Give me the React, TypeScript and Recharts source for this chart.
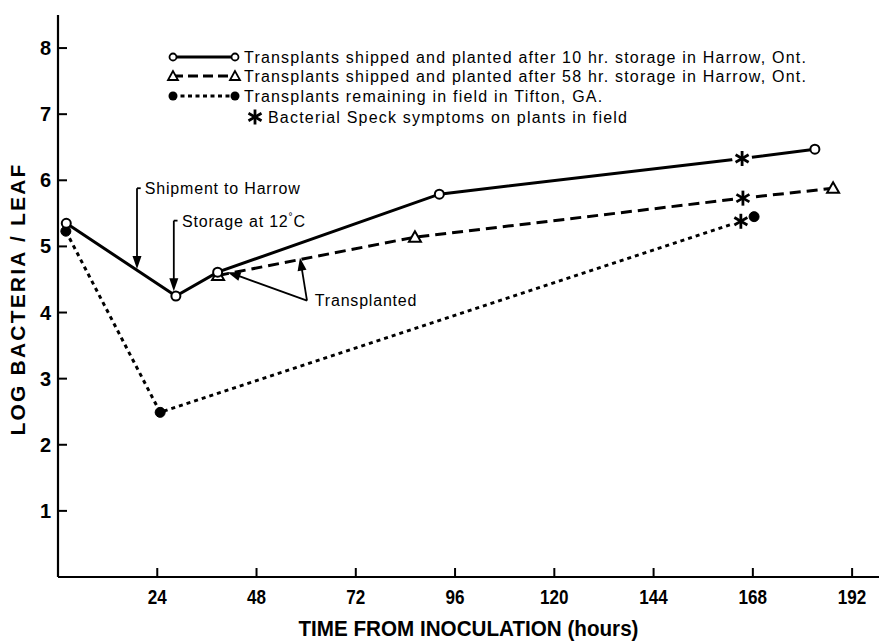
import React from "react";
import {
  LineChart,
  Line,
  XAxis,
  YAxis,
  ReferenceLine,
  ReferenceDot,
} from "recharts";

// ---- Data (hours from inoculation, log bacteria / leaf) ----
const solidHours = [2, 28.5, 38.6, 92.2, 165.4, 183.0];
const solidLog = [5.35, 4.25, 4.61, 5.79, 6.33, 6.47];
const solidStar = [false, false, false, false, true, false];

const dashedHours = [38.7, 86.3, 165.6, 187.4];
const dashedLog = [4.56, 5.14, 5.73, 5.88];
const dashedStar = [false, false, true, false];

const dottedHours = [1.9, 24.7, 165.1, 168.3];
const dottedLog = [5.23, 2.49, 5.38, 5.45];
const dottedStar = [false, false, true, false];

const xTicks = [24, 48, 72, 96, 120, 144, 168, 192];
const yTicks = [1, 2, 3, 4, 5, 6, 7, 8];

const legendLabels = [
  "Transplants shipped and planted after 10 hr. storage in Harrow, Ont.",
  "Transplants shipped and planted after 58 hr. storage in Harrow, Ont.",
  "Transplants remaining in field in Tifton, GA.",
  "Bacterial Speck symptoms on plants in field",
];

const build = (h: number[], v: number[], s: boolean[]) =>
  h.map((x, i) => ({ x, y: v[i], star: s[i] }));

const solidData = build(solidHours, solidLog, solidStar);
const dashedData = build(dashedHours, dashedLog, dashedStar);
const dottedData = build(dottedHours, dottedLog, dottedStar);

const BOLD = "'Liberation Sans', Arial, sans-serif";
const TEXT = "'Liberation Sans', Arial, sans-serif";

const Star = ({ cx, cy }: { cx: number; cy: number }) => {
  const L = 7.5;
  const arms = [90, 30, 150].map((a) => {
    const r = (a * Math.PI) / 180;
    return { dx: Math.cos(r) * L, dy: Math.sin(r) * L };
  });
  return (
    <g>
      <circle cx={cx} cy={cy} r={10} fill="#fff" />
      {arms.map((d, i) => (
        <line
          key={i}
          x1={cx - d.dx}
          y1={cy - d.dy}
          x2={cx + d.dx}
          y2={cy + d.dy}
          stroke="#000"
          strokeWidth={2.8}
        />
      ))}
    </g>
  );
};

const makeDot = (kind: "open" | "tri" | "fill") => (props: any) => {
  const { cx, cy, payload, index } = props;
  if (cx == null || cy == null) return <g key={index} />;
  if (payload && payload.star) return <Star key={index} cx={cx} cy={cy} />;
  if (kind === "open")
    return <circle key={index} cx={cx} cy={cy} r={4.5} fill="#fff" stroke="#000" strokeWidth={2} />;
  if (kind === "fill")
    return <circle key={index} cx={cx} cy={cy} r={5} fill="#000" stroke="#000" strokeWidth={1} />;
  return (
    <polygon
      key={index}
      points={`${cx},${cy - 6} ${cx - 6},${cy + 4.5} ${cx + 6},${cy + 4.5}`}
      fill="#fff"
      stroke="#000"
      strokeWidth={2}
    />
  );
};

const XTick = (props: any) => {
  const { x, y, payload } = props;
  return (
    <g>
      <line x1={x} x2={x} y1={y} y2={y - 9} stroke="#000" strokeWidth={2} />
      <text
        x={x}
        y={y + 27}
        textAnchor="middle"
        fontFamily={BOLD}
        fontWeight="bold"
        fontSize={20}
        textLength={String(payload.value).length * 9.5}
        lengthAdjust="spacingAndGlyphs"
        fill="#000"
      >
        {payload.value}
      </text>
    </g>
  );
};

const TopTick = (props: any) => {
  const { x, y } = props;
  return <line x1={x} x2={x} y1={y} y2={y + 9} stroke="#000" strokeWidth={2} />;
};

const YTick = (props: any) => {
  const { x, y, payload } = props;
  return (
    <g>
      <line x1={x} x2={x + 9} y1={y} y2={y} stroke="#000" strokeWidth={2} />
      <text
        x={x - 7}
        y={y + 7}
        textAnchor="end"
        fontFamily={BOLD}
        fontWeight="bold"
        fontSize={20}
        fill="#000"
      >
        {payload.value}
      </text>
    </g>
  );
};

const RightTick = (props: any) => {
  const { x, y } = props;
  return <line x1={x - 4} x2={x} y1={y} y2={y} stroke="#000" strokeWidth={2} />;
};

const Arrow = (angle: number) => (props: any) => {
  const { cx, cy } = props;
  return (
    <polygon
      points="0,0 -13,-4.5 -13,4.5"
      transform={`translate(${cx},${cy}) rotate(${angle})`}
      fill="#000"
    />
  );
};

const Note = (text: React.ReactNode) => (props: any) => {
  const { cx, cy } = props;
  return (
    <text
      x={cx}
      y={cy}
      dominantBaseline="middle"
      fontFamily={TEXT}
      fontSize={16}
      letterSpacing={0.8}
      fill="#000"
    >
      {text}
    </text>
  );
};

const annLine = { stroke: "#000", strokeWidth: 1.8, ifOverflow: "visible" as const };

const Legend = () => {
  const rows = [57, 76, 96, 117];
  const x0 = 173;
  const x1 = 235;
  const tx = 244;
  return (
    <svg
      width={879}
      height={641}
      style={{ position: "absolute", left: 0, top: 0, pointerEvents: "none" }}
    >
      <line x1={x0} x2={x1} y1={rows[0]} y2={rows[0]} stroke="#000" strokeWidth={3} />
      <circle cx={x0} cy={rows[0]} r={3.5} fill="#fff" stroke="#000" strokeWidth={1.8} />
      <circle cx={x1} cy={rows[0]} r={3.5} fill="#fff" stroke="#000" strokeWidth={1.8} />

      <line x1={x0} x2={x1} y1={rows[1]} y2={rows[1]} stroke="#000" strokeWidth={3} strokeDasharray="10 5" />
      <polygon points={`${x0},${rows[1] - 5} ${x0 - 5},${rows[1] + 4} ${x0 + 5},${rows[1] + 4}`} fill="#fff" stroke="#000" strokeWidth={1.8} />
      <polygon points={`${x1},${rows[1] - 5} ${x1 - 5},${rows[1] + 4} ${x1 + 5},${rows[1] + 4}`} fill="#fff" stroke="#000" strokeWidth={1.8} />

      <line x1={x0} x2={x1} y1={rows[2]} y2={rows[2]} stroke="#000" strokeWidth={3} strokeDasharray="4 3.5" />
      <circle cx={x0} cy={rows[2]} r={4.5} fill="#000" />
      <circle cx={x1} cy={rows[2]} r={4.5} fill="#000" />

      <Star cx={255} cy={rows[3]} />

      {legendLabels.map((t, i) => (
        <text
          key={i}
          x={i === 3 ? 268 : tx}
          y={rows[i] + 1.5}
          dominantBaseline="middle"
          fontFamily={TEXT}
          fontSize={16}
          letterSpacing={1.2}
          fill="#000"
        >
          {t}
        </text>
      ))}
    </svg>
  );
};

export default function App() {
  return (
    <div style={{ position: "absolute", left: 0, top: 0, width: 879, height: 641, background: "#fff" }}>
      <LineChart
        width={879}
        height={641}
        margin={{ top: 15, right: 0, bottom: 0, left: 0 }}
        style={{ background: "#fff" }}
      >
        <XAxis
          dataKey="x"
          type="number"
          domain={[0, 198.5]}
          ticks={xTicks}
          allowDataOverflow
          height={64}
          tickSize={0}
          tickMargin={0}
          tickLine={false}
          axisLine={{ stroke: "#000", strokeWidth: 2.2 }}
          tick={<XTick />}
          interval={0}
          label={(p: any) => {
            const vb = p.viewBox || {};
            return (
              <text
                x={vb.x + vb.width / 2}
                y={vb.y + 59}
                textAnchor="middle"
                fontFamily={BOLD}
                fontWeight="bold"
                fontSize={22}
                textLength={340}
                lengthAdjust="spacingAndGlyphs"
                fill="#000"
              >
                TIME FROM INOCULATION (hours)
              </text>
            );
          }}
        />
        <XAxis
          xAxisId="top"
          orientation="top"
          dataKey="x"
          type="number"
          domain={[0, 198.5]}
          ticks={xTicks}
          allowDataOverflow
          height={0}
          tickSize={0}
          tickMargin={0}
          tickLine={false}
          axisLine={{ stroke: "#000", strokeWidth: 2.2 }}
          tick={<TopTick />}
          interval={0}
        />
        <YAxis
          type="number"
          domain={[0, 8.5]}
          ticks={yTicks}
          allowDataOverflow
          width={58}
          tickSize={0}
          tickMargin={0}
          tickLine={false}
          axisLine={{ stroke: "#000", strokeWidth: 2.2 }}
          tick={<YTick />}
          interval={0}
          label={(p: any) => {
            const vb = p.viewBox || {};
            const cx = 19;
            const cy = vb.y + vb.height / 2 + 3;
            return (
              <text
                x={cx}
                y={cy}
                transform={`rotate(-90 ${cx} ${cy})`}
                textAnchor="middle"
                dominantBaseline="middle"
                fontFamily={BOLD}
                fontWeight="bold"
                fontSize={21}
                letterSpacing={2.2}
                fill="#000"
              >
                LOG BACTERIA / LEAF
              </text>
            );
          }}
        />
        <YAxis
          yAxisId="right"
          orientation="right"
          type="number"
          domain={[0, 8.5]}
          ticks={yTicks}
          allowDataOverflow
          width={0}
          tickSize={0}
          tickMargin={0}
          tickLine={false}
          axisLine={false}
          tick={<RightTick />}
          interval={0}
        />

        <Line
          data={dottedData}
          dataKey="y"
          stroke="#000"
          strokeWidth={3}
          strokeDasharray="4 4"
          dot={makeDot("fill")}
          activeDot={false}
          isAnimationActive={false}
        />
        <Line
          data={dashedData}
          dataKey="y"
          stroke="#000"
          strokeWidth={3}
          strokeDasharray="11 6"
          dot={makeDot("tri")}
          activeDot={false}
          isAnimationActive={false}
        />
        <Line
          data={solidData}
          dataKey="y"
          stroke="#000"
          strokeWidth={3}
          dot={makeDot("open")}
          activeDot={false}
          isAnimationActive={false}
        />

        {/* Shipment to Harrow */}
        <ReferenceLine segment={[{ x: 19.1, y: 5.88 }, { x: 19.1, y: 4.72 }]} {...annLine} />
        <ReferenceLine segment={[{ x: 19.1, y: 5.88 }, { x: 20.0, y: 5.88 }]} {...annLine} />
        <ReferenceDot x={19.1} y={4.66} ifOverflow="visible" shape={Arrow(90)} />
        <ReferenceDot x={21.0} y={5.85} ifOverflow="visible" shape={Note("Shipment to Harrow")} />

        {/* Storage at 12 C */}
        <ReferenceLine segment={[{ x: 28.0, y: 5.39 }, { x: 28.0, y: 4.38 }]} {...annLine} />
        <ReferenceLine segment={[{ x: 28.0, y: 5.39 }, { x: 28.9, y: 5.39 }]} {...annLine} />
        <ReferenceDot x={28.0} y={4.32} ifOverflow="visible" shape={Arrow(90)} />
        <ReferenceDot
          x={30.0}
          y={5.36}
          ifOverflow="visible"
          shape={Note(
            <>
              Storage at 12
              <tspan dy={-6} fontSize={10}>°</tspan>
              <tspan dy={6}>C</tspan>
            </>
          )}
        />

        {/* Transplanted */}
        <ReferenceLine segment={[{ x: 60.2, y: 4.18 }, { x: 42.5, y: 4.58 }]} {...annLine} />
        <ReferenceLine segment={[{ x: 60.2, y: 4.18 }, { x: 58.7, y: 4.76 }]} {...annLine} />
        <ReferenceDot x={41.0} y={4.61} ifOverflow="visible" shape={Arrow(-160.7)} />
        <ReferenceDot x={58.5} y={4.83} ifOverflow="visible" shape={Arrow(-99.2)} />
        <ReferenceDot x={62.1} y={4.17} ifOverflow="visible" shape={Note("Transplanted")} />
      </LineChart>
      <Legend />
    </div>
  );
}
